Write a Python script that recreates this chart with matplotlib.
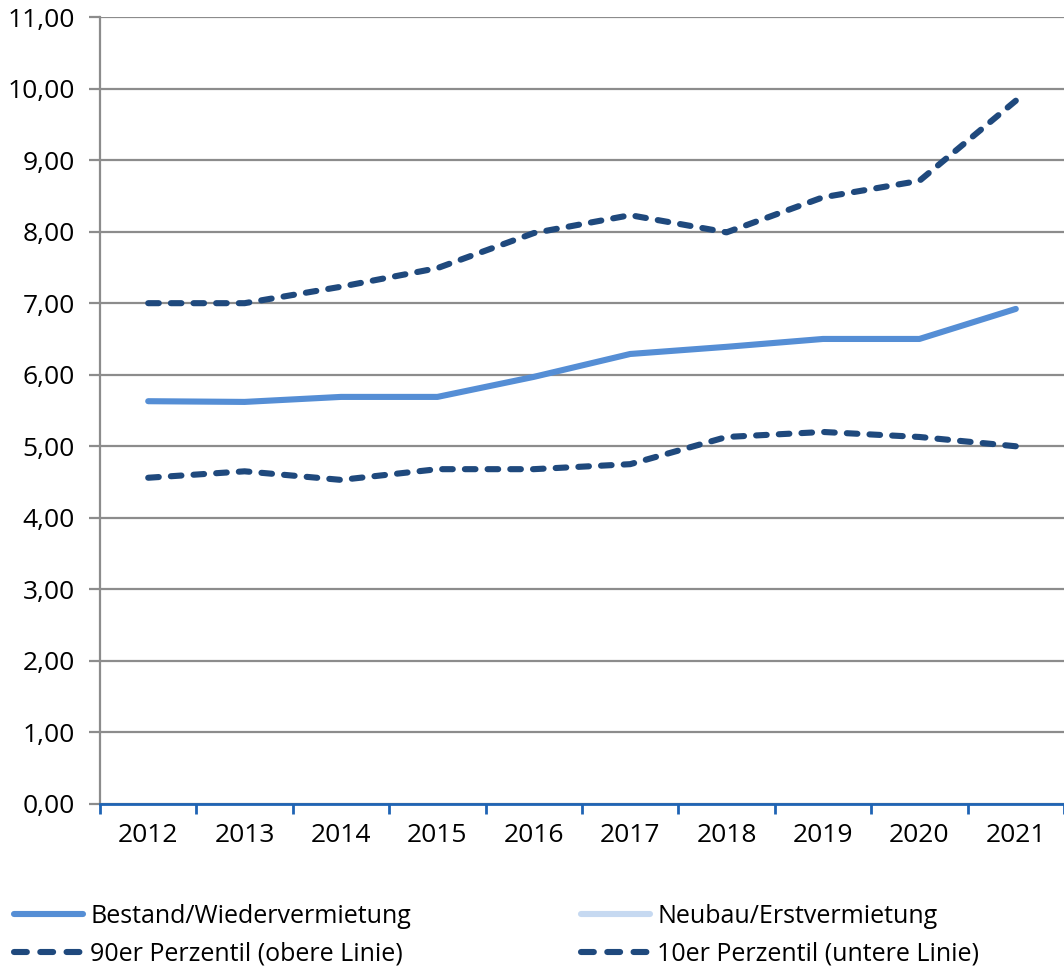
import matplotlib
matplotlib.use("Agg")
import matplotlib.pyplot as plt
from matplotlib.lines import Line2D
import numpy as np

years = ["2012", "2013", "2014", "2015", "2016", "2017", "2018", "2019", "2020", "2021"]
bestand = [5.63, 5.62, 5.69, 5.69, 5.97, 6.29, 6.39, 6.50, 6.50, 6.92]
p90 = [7.00, 7.00, 7.23, 7.49, 7.98, 8.23, 7.99, 8.48, 8.71, 9.83]
p10 = [4.56, 4.65, 4.53, 4.68, 4.68, 4.75, 5.13, 5.20, 5.13, 5.00]
y_ticks = [0, 1, 2, 3, 4, 5, 6, 7, 8, 9, 10, 11]
labels = ["Bestand/Wiedervermietung", "Neubau/Erstvermietung",
          "90er Perzentil (obere Linie)", "10er Perzentil (untere Linie)"]

plt.rcParams['font.family'] = ['Open Sans', 'DejaVu Sans']
FS = 19
FS_LEG = 18

c_best = "#558ED5"
c_neu = "#C6D9F1"
c_dark = "#1F497D"
c_grid = "#8C8C8C"
c_axis = "#1F64B4"

fig = plt.figure(figsize=(10.64, 9.67), dpi=100)
ax = fig.add_axes([100/1064, 163/967, 964/1064, (804-17)/967])

x = np.arange(len(years))
lw = 4.4
ON, OFF = 1.75, 2.0
dash_leg = (2.1, 2.2)

ax.set_xlim(-0.5, len(years) - 0.5)
ax.set_ylim(0, 11)


def dashed_style(yvals):
    # stretch the dash pattern slightly so both ends of the line fall on a full dash
    pts = ax.transData.transform(np.column_stack([x, yvals]))
    L_px = np.sum(np.hypot(*np.diff(pts, axis=0).T))
    L_u = L_px * 72 / fig.dpi / lw
    period = ON + OFF
    n = max(1, round((L_u - ON) / period))
    s = L_u / (n * period + ON)
    return (0, (ON * s, OFF * s))


ax.plot(x, p90, color=c_dark, lw=lw, linestyle=dashed_style(p90), dash_capstyle='round', zorder=3)
ax.plot(x, p10, color=c_dark, lw=lw, linestyle=dashed_style(p10), dash_capstyle='round', zorder=3)
ax.plot(x, bestand, color=c_best, lw=lw, solid_capstyle='round', zorder=4)

ax.set_yticks(y_ticks)
ax.set_yticklabels([f"{v:.2f}".replace(".", ",") for v in y_ticks], fontsize=FS)
ax.grid(axis='y', color=c_grid, lw=1.6)
ax.set_axisbelow(True)

ax.set_xticks(x)
ax.set_xticklabels(years, fontsize=FS)
ax.set_xticks(np.arange(-0.5, len(years)), minor=True)
ax.tick_params(axis='x', which='major', length=0, pad=14)
ax.tick_params(axis='x', which='minor', length=7, width=2, color=c_axis, direction='out')
ax.tick_params(axis='y', length=8, width=1.6, color=c_grid, pad=10)

for s in ['top', 'right']:
    ax.spines[s].set_visible(False)
ax.spines['left'].set_color(c_grid)
ax.spines['left'].set_linewidth(1.6)
ax.spines['bottom'].set_color(c_axis)
ax.spines['bottom'].set_linewidth(2)
ax.spines['bottom'].set_zorder(5)

h_best = Line2D([], [], color=c_best, lw=lw, solid_capstyle='round')
h_neu = Line2D([], [], color=c_neu, lw=lw, solid_capstyle='round')
h_90 = Line2D([], [], color=c_dark, lw=lw, dashes=dash_leg, dash_capstyle='round')
h_10 = Line2D([], [], color=c_dark, lw=lw, dashes=dash_leg, dash_capstyle='round')

common = dict(loc='lower left', frameon=False, fontsize=FS_LEG, handlelength=2.75,
              handletextpad=0.3, labelspacing=0.5, borderpad=0, borderaxespad=0)
leg1 = fig.legend([h_best, h_90], [labels[0], labels[2]],
                  bbox_to_anchor=(14/1064, 0.5/967), **common)
leg2 = fig.legend([h_neu, h_10], [labels[1], labels[3]],
                  bbox_to_anchor=(581/1064, 0.5/967), **common)

fig.savefig("out.png", dpi=100)
